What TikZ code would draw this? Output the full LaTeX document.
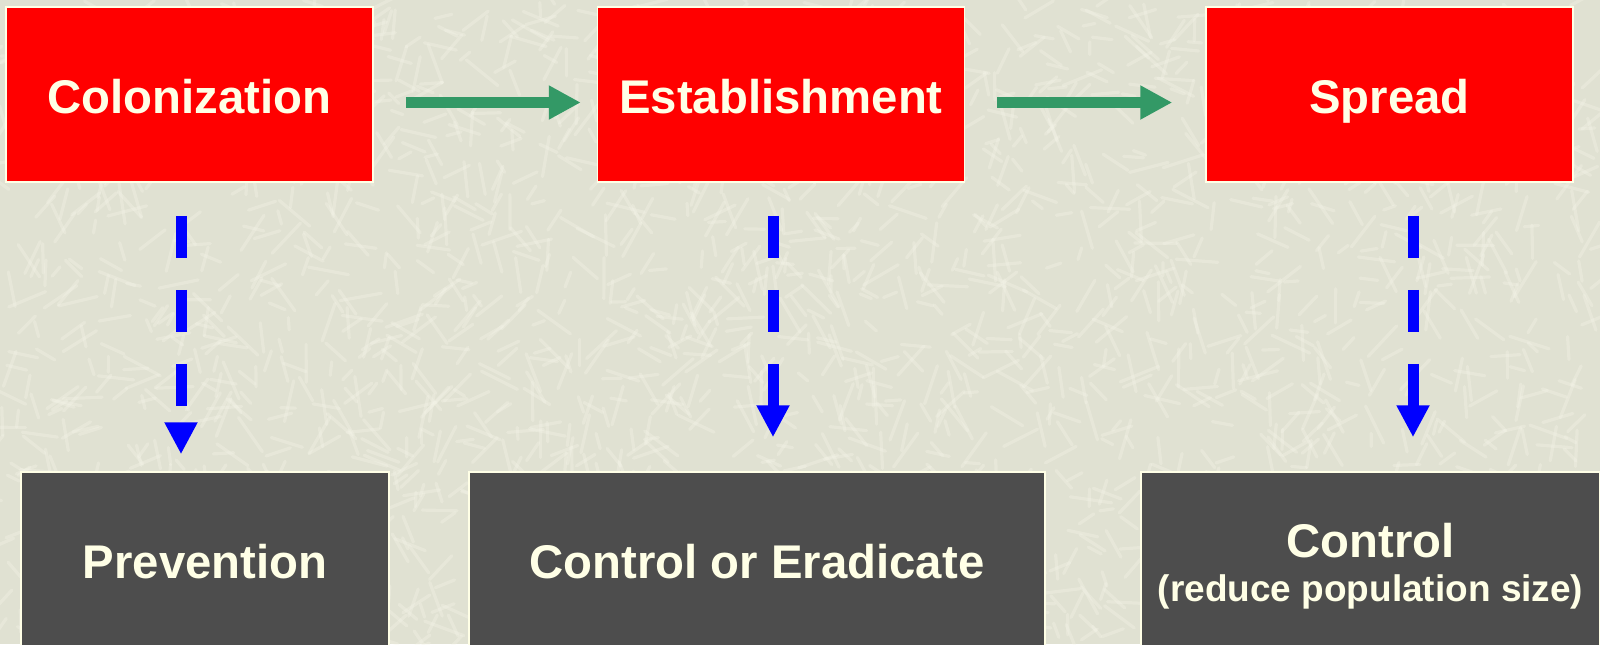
\documentclass[tikz,border=0pt]{standalone}
\usepackage{fontspec}
\setmainfont{Liberation Sans}
\usetikzlibrary{arrows.meta}
\definecolor{bg}{RGB}{224,225,210}
\definecolor{streak}{RGB}{246,246,234}
\definecolor{cream}{RGB}{255,255,230}
\definecolor{boxred}{RGB}{255,0,0}
\definecolor{boxdark}{RGB}{77,77,77}
\definecolor{arrgreen}{RGB}{51,153,102}
\definecolor{arrblue}{RGB}{0,0,255}
\begin{document}
\begin{tikzpicture}[x=0.5pt,y=-0.5pt,
  basebox/.style={draw=cream, line width=0.75pt, minimum height=87.5pt, inner sep=0pt,
    text=cream, font=\fontsize{23.65}{28}\selectfont\bfseries, text height=18.5pt, text depth=0pt},
  redbox/.style={basebox, fill=boxred, minimum width=183.5pt},
  darkbox/.style={basebox, fill=boxdark},
  txtlabel/.style={text=cream, inner sep=0pt, align=center, font=\fontsize{18.5}{22}\selectfont\bfseries},
  greenarr/.style={draw=arrgreen, line width=5.5pt, -{Triangle[length=16pt,width=16pt]}},
  bluearr/.style={draw=arrblue, line width=5.5pt, dash pattern=on 21pt off 16pt,
    -{Triangle[length=16pt,width=15.5pt]}}
]
\useasboundingbox (0,0) rectangle (1600,644);
\clip (0,0) rectangle (1600,644);
\fill[bg] (0,0) rectangle (1600,644);
% background texture
\pgfmathsetseed{7}
\foreach \i in {1,...,2200}{
  \pgfmathsetmacro\xx{rnd*1600}
  \pgfmathsetmacro\yy{rnd*644}
  \pgfmathsetmacro\aa{rnd*360}
  \pgfmathsetmacro\ll{12+rnd*30}
  \draw[streak, line width=1.6pt, opacity=0.32, line cap=round] (\xx,\yy) -- ++(\aa:\ll);
}
% top boxes
\node[redbox] (col) at (189.5,94.5) {Colonization};
\node[redbox] (est) at (781,94.5) {Establishment};
\node[redbox] (spr) at (1389.5,94.5) {Spread};
% bottom boxes
\node[darkbox, minimum width=184pt] (prev) at (205,559.5) {Prevention};
\node[darkbox, minimum width=288pt] (ctrl) at (757,559.5) {Control or Eradicate};
\node[darkbox, minimum width=229.5pt] (ctrl2) at (1370.5,559.5) {};
\node[txtlabel, yshift=-3.25pt] (ctrl2t) at (ctrl2)
  {{\fontsize{23.65}{22}\selectfont Control}\\(reduce population size)};
% green arrows
\draw[greenarr, shorten <=16pt, shorten >=8pt] ([yshift=-4pt]col.east) -- ([yshift=-4pt]est.west);
\draw[greenarr, shorten <=16pt, shorten >=16.5pt] ([yshift=-4pt]est.east) -- ([yshift=-4pt]spr.west);
% blue dashed arrows
\path (col.south) ++(-8.5,0) coordinate (b1);
\path (est.south) ++(-8,0) coordinate (b2);
\path (spr.south) ++(23.5,0) coordinate (b3);
\draw[bluearr, shorten <=16.5pt, shorten >=8.5pt] (b1) -- (b1 |- prev.north);
\draw[bluearr, shorten <=16.5pt, shorten >=17pt] (b2) -- (b2 |- ctrl.north);
\draw[bluearr, shorten <=16.5pt, shorten >=17pt] (b3) -- (b3 |- ctrl2.north);
\end{tikzpicture}
\end{document}
